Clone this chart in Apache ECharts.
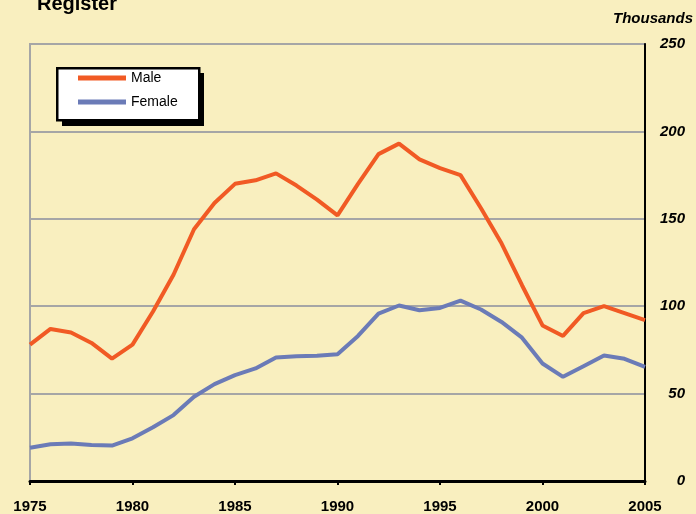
<!DOCTYPE html>
<html>
<head>
<meta charset="utf-8">
<script src="https://cdn.jsdelivr.net/npm/echarts@6/dist/echarts.min.js"></script>
<style>
html,body{margin:0;padding:0;background:#F9EFBF;}
#chart{width:696px;height:514px;}
</style>
</head>
<body>
<div id="chart"></div>
<script>
var years = [1975,1976,1977,1978,1979,1980,1981,1982,1983,1984,1985,1986,1987,1988,1989,1990,1991,1992,1993,1994,1995,1996,1997,1998,1999,2000,2001,2002,2003,2004,2005];
var male = [78,87,85,79,70,78,97,118,144,159,170,172,176,169,161,152,170,187,193,184,179,175,156,136,112,89,83,96,100,96,92];
var female = [19,21,21.5,20.6,20.3,24.4,30.7,37.7,48.2,55.4,60.6,64.4,70.7,71.4,71.6,72.5,83,95.8,100.4,97.7,99,103.2,98.1,91,82,67.2,59.6,65.7,71.8,69.9,65.3];
var yTicks = [0,50,100,150,200,250];

function pairs(v){ return years.map(function(y,i){ return [y, v[i]]; }); }

var font = 'Liberation Sans, Arial, sans-serif';
var chart = echarts.init(document.getElementById('chart'));
chart.setOption({
  backgroundColor: '#F9EFBF',
  animation: false,
  title: {
    text: 'Register', left: 37, top: -6, padding: 0,
    textStyle: {fontFamily: font, fontSize: 20, fontWeight: 'bold', color: '#000'}
  },
  graphic: [
    {type: 'text', right: 3, top: 11, z: 10,
     style: {text: 'Thousands', font: 'italic bold 15px ' + font, fill: '#000'}},
    {type: 'rect', left: 62, top: 73, z: 5, silent: true,
     shape: {width: 142, height: 53}, style: {fill: '#000'}},
    {type: 'rect', left: 56, top: 67, z: 6, silent: true,
     shape: {width: 142, height: 52}, style: {fill: '#fff', stroke: '#000', lineWidth: 2.5}}
  ],
  legend: {
    orient: 'vertical', left: 78, top: 71, z: 20,
    data: ['Male','Female'],
    padding: 0, itemGap: 10,
    itemWidth: 48, itemHeight: 5, icon: 'rect',
    textStyle: {fontFamily: font, fontSize: 14, color: '#000'}
  },
  grid: {
    left: 30, right: 51, top: 44, bottom: 33,
    show: true, borderColor: '#A6A6A6', borderWidth: 2, backgroundColor: 'transparent'
  },
  xAxis: {
    type: 'value', min: 1975, max: 2005, interval: 5,
    axisLine: {show: true, lineStyle: {color: '#000', width: 3}},
    axisTick: {show: true, length: 4, lineStyle: {color: '#000', width: 2}},
    splitLine: {show: false},
    axisLabel: {margin: 18, fontFamily: font, fontSize: 15, fontWeight: 'bold', color: '#000',
      formatter: function(v){ return String(v); }}
  },
  yAxis: {
    type: 'value', position: 'right', min: 0, max: 250, interval: 50,
    axisLine: {show: true, lineStyle: {color: '#000', width: 2}},
    axisTick: {show: false},
    splitLine: {show: true, lineStyle: {color: '#A6A6A6', width: 2}},
    axisLabel: {margin: 40, align: 'right', fontFamily: font, fontSize: 15, fontWeight: 'bold', fontStyle: 'italic', color: '#000',
      formatter: function(v){ return yTicks.indexOf(v) >= 0 ? String(v) : ''; }}
  },
  series: [
    {name: 'Male', type: 'line', data: pairs(male), symbol: 'none',
     itemStyle: {color: '#F15A24'}, lineStyle: {color: '#F15A24', width: 4}},
    {name: 'Female', type: 'line', data: pairs(female), symbol: 'none',
     itemStyle: {color: '#6B7BB7'}, lineStyle: {color: '#6B7BB7', width: 4}}
  ]
});
</script>
</body>
</html>
